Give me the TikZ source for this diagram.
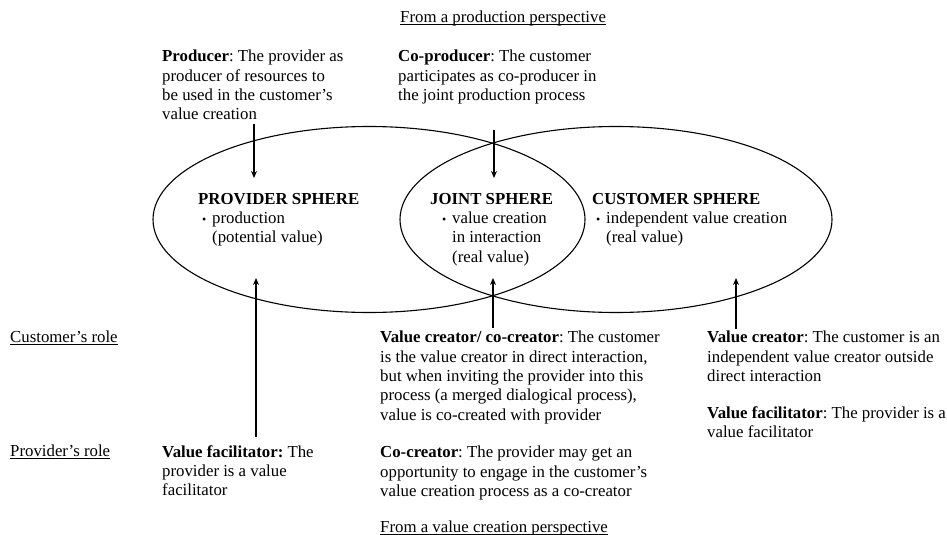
\documentclass[tikz,border=0pt]{standalone}
\usepackage{fontspec}
\setmainfont{Liberation Serif}
\usetikzlibrary{arrows.meta,shapes.geometric}
\frenchspacing
\newcommand\sphbullet{\makebox[10pt][l]{\raisebox{0.3pt}{\fontsize{12}{12}\selectfont\textbullet}}}
% underline set close to the baseline, running through descenders
\newcommand\perspline[1]{\setbox0\hbox{#1}\rlap{\rule[-1.9pt]{\wd0}{0.6pt}}\box0}
\begin{document}
\begin{tikzpicture}[x=1pt,y=-1pt,
  txt/.style={anchor=north west, inner sep=0pt, align=left,
    font=\fontsize{16.8}{19.3}\selectfont},
  sphere/.style={draw, ellipse, line width=1.1pt, inner sep=0pt,
    minimum width=432pt, minimum height=186pt},
  rolearrow/.style={line width=1.3pt, -{Stealth[length=7pt,width=6pt]}}]
\useasboundingbox (0,0) rectangle (947,535);

% the two overlapping spheres; their overlap is the joint sphere
\node[sphere] (prov) at (369,219.5) {};
\node[sphere] (cust) at (616,219.5) {};

% production perspective (top)
\node[txt] (prodpersp) at (400,11) {\perspline{From a production perspective}};
\node[txt] (producer) at (162,50) {\textbf{Producer}: The provider as\\
  producer of resources to\\ be used in the customer’s\\ value creation};
\node[txt] (coproducer) at (398,50) {\textbf{Co-producer}: The customer\\
  participates as co-producer in\\ the joint production process};

% sphere contents
\node[txt] (provtxt) at (198,193) {\textbf{PROVIDER SPHERE}\\
  \hspace*{4pt}\sphbullet production\\ \hspace*{14pt}(potential value)};
\node[txt] (jointtxt) at (430,193) {\textbf{JOINT SPHERE}\\
  \hspace*{12pt}\sphbullet value creation\\ \hspace*{22pt}in interaction\\
  \hspace*{22pt}(real value)};
\node[txt] (custtxt) at (592,193) {\textbf{CUSTOMER SPHERE}\\
  \hspace*{4pt}\sphbullet independent value creation\\ \hspace*{14pt}(real value)};

% row labels
\node[txt] (custrole) at (10,331) {\perspline{Customer’s role}};
\node[txt] (provrole) at (10,445) {\perspline{Provider’s role}};

% value creation perspective (bottom)
\node[txt] (facilL) at (162,445) {\textbf{Value facilitator:} The\\
  provider is a value\\ facilitator};
\node[txt] (cocreatorA) at (380,331) {\textbf{Value creator/ co-creator}: The customer\\
  is the value creator in direct interaction,\\
  but when inviting the provider into this\\
  process (a merged dialogical process),\\
  value is co-created with provider};
\node[txt] (cocreatorB) at (380,446) {\textbf{Co-creator}: The provider may get an\\
  opportunity to engage in the customer’s\\
  value creation process as a co-creator};
\node[txt] (valpersp) at (380,521) {\perspline{From a value creation perspective}};
\node[txt] (creatorR) at (707,331) {\textbf{Value creator}: The customer is an\\
  independent value creator outside\\ direct interaction};
\node[txt] (facilR) at (707,406) {\textbf{Value facilitator}: The provider is a\\
  value facilitator};

% arrow tips inside the spheres
\coordinate (tipProd) at (254,178);
\coordinate (tipCoprod) at (494,178);
\coordinate (tipFacil) at (256,278);
\coordinate (tipCocr) at (493,278);
\coordinate (tipCreat) at (736,278);

\draw[rolearrow] (producer.south -| tipProd) ++(0,4) -- (tipProd);
\draw[rolearrow] (coproducer.south -| tipCoprod) ++(0,26) -- (tipCoprod);
\draw[rolearrow] (facilL.north -| tipFacil) ++(0,-8) -- (tipFacil);
\draw[rolearrow] (cocreatorA.north -| tipCocr) ++(0,-3) -- (tipCocr);
\draw[rolearrow] (creatorR.north -| tipCreat) ++(0,-2) -- (tipCreat);
\end{tikzpicture}
\end{document}
